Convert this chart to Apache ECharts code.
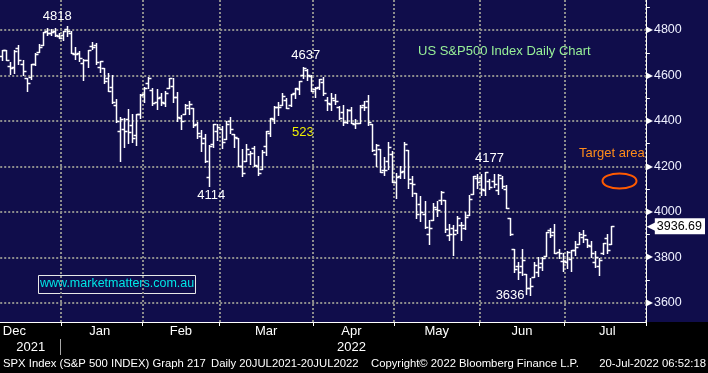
<!DOCTYPE html>
<html><head><meta charset="utf-8">
<script src="https://cdn.jsdelivr.net/npm/echarts@6/dist/echarts.min.js"></script>
<style>html,body{margin:0;padding:0;background:#000}#c{width:708px;height:373px}</style>
</head><body><div id="c"></div>
<script>
// ---- data (S&P 500 daily OHLC) ----
const dates = [
 '2021-12-10','2021-12-13','2021-12-14','2021-12-15','2021-12-16','2021-12-17','2021-12-20','2021-12-21','2021-12-22','2021-12-23','2021-12-27','2021-12-28','2021-12-29','2021-12-30','2021-12-31',
 '2022-01-03','2022-01-04','2022-01-05','2022-01-06','2022-01-07','2022-01-10','2022-01-11','2022-01-12','2022-01-13','2022-01-14','2022-01-18','2022-01-19','2022-01-20','2022-01-21','2022-01-24','2022-01-25','2022-01-26','2022-01-27','2022-01-28','2022-01-31',
 '2022-02-01','2022-02-02','2022-02-03','2022-02-04','2022-02-07','2022-02-08','2022-02-09','2022-02-10','2022-02-11','2022-02-14','2022-02-15','2022-02-16','2022-02-17','2022-02-18','2022-02-22','2022-02-23','2022-02-24','2022-02-25','2022-02-28',
 '2022-03-01','2022-03-02','2022-03-03','2022-03-04','2022-03-07','2022-03-08','2022-03-09','2022-03-10','2022-03-11','2022-03-14','2022-03-15','2022-03-16','2022-03-17','2022-03-18','2022-03-21','2022-03-22','2022-03-23','2022-03-24','2022-03-25','2022-03-28','2022-03-29','2022-03-30','2022-03-31',
 '2022-04-01','2022-04-04','2022-04-05','2022-04-06','2022-04-07','2022-04-08','2022-04-11','2022-04-12','2022-04-13','2022-04-14','2022-04-18','2022-04-19','2022-04-20','2022-04-21','2022-04-22','2022-04-25','2022-04-26','2022-04-27','2022-04-28','2022-04-29',
 '2022-05-02','2022-05-03','2022-05-04','2022-05-05','2022-05-06','2022-05-09','2022-05-10','2022-05-11','2022-05-12','2022-05-13','2022-05-16','2022-05-17','2022-05-18','2022-05-19','2022-05-20','2022-05-23','2022-05-24','2022-05-25','2022-05-26','2022-05-27','2022-05-31',
 '2022-06-01','2022-06-02','2022-06-03','2022-06-06','2022-06-07','2022-06-08','2022-06-09','2022-06-10','2022-06-13','2022-06-14','2022-06-15','2022-06-16','2022-06-17','2022-06-21','2022-06-22','2022-06-23','2022-06-24','2022-06-27','2022-06-28','2022-06-29','2022-06-30',
 '2022-07-01','2022-07-05','2022-07-06','2022-07-07','2022-07-08','2022-07-11','2022-07-12','2022-07-13','2022-07-14','2022-07-15','2022-07-18','2022-07-19'
];
const openV = [
 4687.6,4710.3,4642.0,4636.5,4719.1,4652.5,4587.9,4595.0,4650.4,4704.0,4734.0,4795.5,4788.6,4794.2,4775.2,
 4778.1,4804.5,4788.0,4693.4,4697.7,4655.3,4669.1,4728.6,4733.6,4638.0,4632.2,4588.0,4547.4,4471.4,4356.3,4366.6,4408.4,4380.6,4336.2,4431.8,
 4519.6,4566.4,4535.4,4482.8,4505.8,4480.0,4547.0,4553.2,4506.3,4412.6,4429.3,4455.8,4456.1,4384.6,4332.7,4324.9,4155.8,4298.4,4354.2,
 4363.1,4322.6,4401.3,4342.1,4327.0,4202.7,4223.1,4252.6,4279.5,4202.8,4188.8,4288.1,4345.1,4407.3,4462.4,4469.1,4493.1,4470.0,4522.7,4541.1,4602.9,4624.2,4599.0,
 4540.3,4548.0,4572.5,4494.2,4474.7,4494.2,4462.6,4437.6,4397.2,4449.1,4385.6,4390.6,4472.3,4489.2,4385.8,4255.3,4278.1,4186.5,4222.6,4253.8,
 4130.6,4159.8,4181.2,4270.4,4128.2,4081.3,4035.2,3990.1,3904.0,3963.9,4013.0,4052.0,4052.0,3899.0,3927.8,3919.4,3942.9,3929.6,3984.6,4077.4,4151.1,
 4149.8,4095.4,4137.6,4134.7,4096.5,4147.1,4101.7,3974.4,3838.2,3763.5,3764.1,3728.2,3665.9,3715.3,3733.9,3774.7,3805.0,3920.8,3913.0,3825.1,3786.0,
 3781.0,3792.6,3832.0,3858.9,3888.3,3880.9,3852.0,3779.7,3764.0,3818.0,3883.8,3860.7
];
const highV = [
 4713.6,4710.3,4660.5,4712.6,4732.0,4666.7,4587.9,4651.1,4697.7,4740.7,4791.5,4807.0,4804.1,4808.9,4786.8,
 4796.6,4818.6,4797.7,4725.0,4708.0,4673.0,4714.1,4749.0,4744.1,4665.1,4632.2,4611.6,4602.1,4494.5,4417.4,4411.0,4453.2,4428.7,4432.7,4516.9,
 4550.5,4595.3,4542.9,4539.7,4521.9,4531.3,4590.0,4588.9,4526.3,4426.2,4472.8,4489.6,4456.1,4394.6,4362.1,4341.5,4294.7,4385.3,4388.8,
 4378.5,4401.5,4416.8,4342.1,4327.0,4276.9,4299.4,4268.3,4291.0,4247.6,4271.1,4358.0,4412.7,4465.4,4481.8,4522.0,4501.1,4520.6,4546.0,4575.7,4637.3,4627.8,4603.1,
 4548.7,4583.5,4593.5,4503.9,4521.2,4520.4,4464.4,4471.0,4453.9,4460.5,4410.3,4471.0,4488.3,4512.9,4385.8,4299.0,4278.1,4240.7,4308.5,4269.7,
 4169.8,4200.1,4307.7,4270.4,4157.7,4081.3,4068.8,4049.1,3964.8,4038.9,4049.0,4090.7,4052.0,3946.0,3943.4,3981.9,3955.7,3999.3,4075.1,4158.5,4168.3,
 4166.5,4177.5,4142.7,4168.8,4164.9,4160.1,4119.1,3974.4,3838.2,3778.2,3837.6,3728.2,3707.7,3779.7,3801.8,3802.6,3913.7,3927.7,3945.9,3836.5,3819.0,
 3829.8,3832.2,3870.9,3910.6,3918.5,3880.9,3873.4,3829.4,3796.4,3863.6,3902.4,3939.8
];
const lowV = [
 4670.2,4666.1,4606.5,4611.2,4651.9,4600.2,4531.1,4583.2,4645.5,4704.0,4734.0,4780.0,4778.1,4775.3,4765.8,
 4758.2,4774.3,4699.4,4671.3,4662.7,4582.2,4638.3,4716.1,4650.3,4614.8,4568.7,4530.2,4478.0,4395.3,4222.6,4287.1,4304.8,4309.5,4292.5,4414.0,
 4483.5,4544.3,4470.4,4451.5,4471.5,4465.4,4547.0,4484.3,4401.4,4364.8,4429.3,4429.7,4373.8,4327.2,4267.1,4221.5,4114.7,4286.8,4315.1,
 4279.5,4322.6,4345.6,4285.0,4199.9,4157.9,4223.1,4209.8,4200.5,4161.7,4187.9,4252.0,4335.7,4390.6,4424.3,4469.1,4455.8,4465.2,4501.1,4517.7,4589.7,4581.3,4530.4,
 4507.6,4539.2,4514.2,4450.0,4450.3,4474.6,4408.4,4381.3,4392.7,4390.8,4370.3,4390.6,4448.8,4384.5,4267.6,4200.8,4175.0,4162.9,4188.6,4131.6,
 4062.5,4147.1,4148.9,4106.0,4067.9,3975.5,3958.2,3928.8,3858.9,3963.9,3983.6,4033.9,3911.9,3876.6,3810.3,3909.0,3875.1,3925.0,3984.6,4077.4,4104.9,
 4073.9,4074.4,4098.7,4109.2,4080.2,4107.2,4017.2,3900.2,3734.3,3705.7,3722.3,3639.8,3636.9,3715.3,3717.7,3743.5,3805.0,3889.7,3820.1,3799.0,3738.7,
 3752.1,3742.1,3809.4,3858.9,3869.3,3847.2,3802.4,3759.1,3721.6,3817.2,3818.6,3860.7
];
const closeV = [
 4712.0,4669.0,4634.1,4709.9,4668.7,4620.6,4568.0,4649.2,4696.6,4725.8,4791.2,4786.4,4793.1,4778.7,4766.2,
 4796.6,4793.5,4700.6,4696.1,4677.0,4670.3,4713.1,4726.4,4659.0,4662.9,4577.1,4532.8,4482.7,4397.9,4410.1,4356.5,4349.9,4326.5,4431.9,4515.6,
 4546.5,4589.4,4477.4,4500.5,4483.9,4521.5,4587.2,4504.1,4418.6,4401.7,4471.1,4475.0,4380.3,4348.9,4304.8,4225.5,4288.7,4384.7,4373.9,
 4306.3,4386.5,4363.5,4328.9,4201.1,4170.7,4277.9,4259.5,4204.3,4173.1,4262.5,4357.9,4411.7,4463.1,4461.2,4511.6,4456.2,4520.2,4543.1,4575.5,4631.6,4602.5,4530.4,
 4545.9,4582.6,4525.1,4481.2,4500.2,4488.3,4412.5,4397.5,4446.6,4392.6,4391.7,4462.2,4459.5,4393.7,4271.8,4296.1,4175.2,4184.0,4287.5,4131.9,
 4155.4,4175.5,4300.2,4146.9,4123.3,3991.2,4001.1,3935.2,3930.1,4023.9,4008.0,4088.9,3923.7,3900.8,3901.4,3973.8,3941.5,3978.7,4057.8,4158.2,4132.2,
 4101.2,4176.8,4108.5,4121.4,4160.7,4115.8,4017.8,3900.9,3749.6,3735.5,3790.0,3666.8,3674.8,3764.8,3759.9,3795.7,3911.7,3900.1,3821.6,3818.8,3785.4,
 3825.3,3831.4,3845.1,3902.6,3899.4,3854.4,3818.8,3801.8,3790.4,3863.2,3830.9,3936.69
];
const emptySlots = ['e1','e2','e3','e4','e5','e6','e7','e8'];
const monthLabels = [['2021-12-15','Dec'],['2022-01-14','Jan'],['2022-02-14','Feb'],['2022-03-16','Mar'],['2022-04-14','Apr'],['2022-05-16','May'],['2022-06-15','Jun'],['2022-07-18','Jul']];
const yearLabels = [['2021-12-21','2021'],['2022-04-14','2022']];
const yMajor = [3600,3800,4000,4200,4400,4600,4800];
const yMinor = [3700,3900,4100,4300,4500,4700,4900];
const lastPrice = 3936.69;
const yMin = 3516, yMax = 4932;

// ---- build ----
const cats = dates.concat(emptySlots);
const ohlc = dates.map((d,i)=>[i, openV[i], highV[i], lowV[i], closeV[i]]);
const monthStart = new Set();
dates.forEach((d,i)=>{ if(i>0 && d.slice(0,7)!==dates[i-1].slice(0,7)) monthStart.add(i); });
const monthLabelMap = {}; monthLabels.forEach(([d,t])=>{monthLabelMap[cats.indexOf(d)]=t;});
const yearLabelMap = {}; yearLabels.forEach(([d,t])=>{yearLabelMap[cats.indexOf(d)]=t;});
const yearStart = dates.findIndex(d=>d.startsWith('2022'));

const FONT = 'Liberation Sans, Arial, sans-serif';
const dotted = {color:'#8c8c8c', width:2, type:[2,2]};
const clear = 'rgba(0,0,0,0)';

function renderItem(params, api){
  const i = api.value(0);
  const pO = api.coord([i, api.value(1)]);
  const pH = api.coord([i, api.value(2)]);
  const pL = api.coord([i, api.value(3)]);
  const pC = api.coord([i, api.value(4)]);
  const x = Math.round(pH[0]) + 0.5;
  const yo = Math.round(pO[1]) + 0.5, yc = Math.round(pC[1]) + 0.5;
  const s = {stroke:'#ffffff', lineWidth:1.5};
  return {type:'group', children:[
    {type:'line', shape:{x1:x, y1:Math.round(pH[1]), x2:x, y2:Math.round(pL[1])+1}, style:s},
    {type:'line', shape:{x1:x-3, y1:yo, x2:x, y2:yo}, style:s},
    {type:'line', shape:{x1:x, y1:yc, x2:x+3, y2:yc}, style:s}
  ]};
}

const chart = echarts.init(document.getElementById('c'), null, {renderer:'canvas'});
chart.setOption({
  animation:false,
  backgroundColor: new echarts.graphic.LinearGradient(0,0,0,1,[
    {offset:0,color:'#100d4b'},{offset:322/373,color:'#100d4b'},
    {offset:322/373,color:'#000000'},{offset:1,color:'#000000'}]),
  textStyle:{fontFamily:FONT},
  grid:{left:0, right:56, top:0, bottom:51, containLabel:false},
  xAxis:[{
    type:'category', data:cats, boundaryGap:true, position:'bottom',
    axisLine:{show:true, lineStyle:{color:'#ffffff', width:1}},
    axisTick:{show:true, interval:(i)=>monthStart.has(i), length:4, lineStyle:{color:'#ffffff'}},
    axisLabel:{interval:(i)=>monthLabelMap[i]!==undefined, formatter:(v,i)=>monthLabelMap[i]||'',
      color:'#ffffff', fontSize:13, margin:3},
    splitLine:{show:true, interval:(i)=>monthStart.has(i), lineStyle:dotted}
  },{
    type:'category', data:cats, boundaryGap:true, position:'bottom', offset:17,
    axisLine:{show:false}, axisTick:{show:false},
    axisLabel:{interval:(i)=>yearLabelMap[i]!==undefined, formatter:(v,i)=>yearLabelMap[i]||'',
      color:'#ffffff', fontSize:13, margin:2},
    splitLine:{show:false}
  }],
  yAxis:[{
    type:'value', position:'right', min:yMin, max:yMax,
    axisLine:{show:true, lineStyle:{color:'#ffffff', width:1}},
    axisTick:{show:false, customValues:yMajor},
    axisLabel:{customValues:yMajor.concat([lastPrice]), margin:1,
      formatter:(v)=> (Math.abs(v-lastPrice)<0.001) ? '{a|◀}{p|'+lastPrice.toFixed(2)+'}' : '{t|▶}{v|'+v+'}',
      rich:{
        t:{color:'#ffffff', fontSize:8, fontFamily:'DejaVu Sans'},
        v:{color:'#eef0ff', fontSize:12.5, padding:[0,0,0,1]},
        a:{color:'#ffffff', fontSize:13, fontFamily:'DejaVu Sans', padding:[0,-2,0,0]},
        p:{color:'#000000', backgroundColor:'#ffffff', fontSize:12.5, padding:[2,3,1,2]}
      }},
    splitLine:{show:true, lineStyle:dotted}
  },{
    type:'value', position:'right', min:yMin, max:yMax, offset:0,
    axisLine:{show:true, lineStyle:{color:clear}},
    axisTick:{show:true, customValues:yMinor, length:4, lineStyle:{color:'#ffffff'}},
    axisLabel:{show:false}, splitLine:{show:false}
  }],
  series:[{
    type:'custom', name:'SPX', renderItem:renderItem, data:ohlc,
    xAxisIndex:0, yAxisIndex:0, encode:{x:0, y:[1,2,3,4]}, clip:true,
    markPoint:{
      symbol:'circle', symbolSize:1, silent:true,
      itemStyle:{color:clear},
      label:{show:true, position:'inside', color:'#ffffff', fontSize:13, fontFamily:FONT},
      data:[
        {coord:['2022-01-04',4818.6], label:{formatter:'4818', offset:[-10,-9]}},
        {coord:['2022-03-29',4637.3], label:{formatter:'4637', offset:[3,-12]}},
        {coord:['2022-02-24',4114.7], label:{formatter:'4114', offset:[2,10]}},
        {coord:['2022-06-02',4177.5], label:{formatter:'4177', offset:[4,-13]}},
        {coord:['2022-06-17',3636.9], label:{formatter:'3636', offset:[-20,1]}}
      ]
    }
  }],
  graphic:[
    {type:'text', left:418, top:45, style:{text:'US S&P500 Index Daily Chart', fill:'#98f098', font:'13px '+FONT}},
    {type:'text', left:292, top:126, style:{text:'523', fill:'#f0f000', font:'13px '+FONT}},
    {type:'text', left:579, top:147, style:{text:'Target area', fill:'#ff8c1a', font:'13px '+FONT}},
    {type:'ellipse', shape:{cx:619.5, cy:181, rx:17, ry:7.5}, style:{fill:'none', stroke:'#ff5a00', lineWidth:2}},
    {type:'rect', shape:{x:38.5, y:275.5, width:157, height:18}, style:{fill:'none', stroke:'#e8e8e8', lineWidth:1}},
    {type:'text', left:40, top:277, style:{text:'www.marketmatters.com.au', fill:'#00e6e6', font:'12.5px '+FONT}},
    {type:'text', left:3, top:358, style:{text:'SPX Index (S&P 500 INDEX) Graph 217', fill:'#ffffff', font:'11.3px '+FONT}},
    {type:'text', left:211, top:358, style:{text:'Daily 20JUL2021-20JUL2022', fill:'#ffffff', font:'11.3px '+FONT}},
    {type:'text', left:371, top:358, style:{text:'Copyright\u00A9 2022 Bloomberg Finance L.P.', fill:'#ffffff', font:'11.3px '+FONT}},
    {type:'text', right:2, top:358, style:{text:'20-Jul-2022 06:52:18', fill:'#ffffff', font:'11.3px '+FONT}}
  ]
});

// year separator: placed at the boundary between the last 2021 and first 2022 category, via the axis scale
const xa = chart.convertToPixel({xAxisIndex:0}, cats[yearStart]);
const xb = chart.convertToPixel({xAxisIndex:0}, cats[yearStart-1]);
const sepX = Math.round((xa + xb) / 2) - 0.5;
chart.setOption({graphic:{elements:[
  {id:'yearSep', type:'line', shape:{x1:sepX, y1:339, x2:sepX, y2:355}, style:{stroke:'#a8a8a8', lineWidth:1}}
]}});
</script></body></html>
